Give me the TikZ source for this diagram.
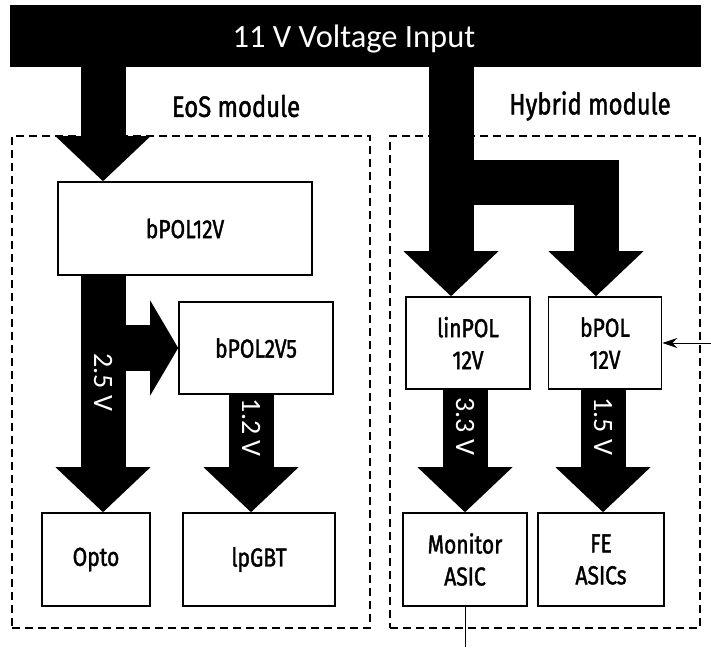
\documentclass[tikz,border=0pt]{standalone}
\usepackage{fontspec}
\setmainfont{Fira Sans}[FakeStretch=0.82]
\newfontfamily\semifont{Fira Sans}[FakeStretch=0.81,FakeBold=1.5]
\newfontfamily\calfont{Carlito}
\usetikzlibrary{arrows.meta,backgrounds}
\begin{document}
\begin{tikzpicture}[x=1pt,y=-1pt,
  bar/.style={fill=black,inner sep=0,minimum width=691pt,minimum height=62pt},
  bartext/.style={text=white,inner sep=0,font=\calfont\fontsize{32.5}{36}\selectfont},
  modlab/.style={font=\semifont\fontsize{29.5}{32}\selectfont},
  modbox/.style={draw,line width=1.6pt,dash pattern=on 8pt off 5pt,inner sep=0},
  box/.style={draw,line width=1.6pt,fill=white,align=center,inner sep=0,font=\semifont\fontsize{26}{32}\selectfont},
  fat/.style={line width=45pt,-{Triangle[length=45pt,width=95pt,line width=0pt 0 0]}},
  fatside/.style={line width=46pt,-{Triangle[length=28pt,width=95pt,line width=0pt 0 0]}},
  vlab/.style={text=white,sloped,font=\calfont\fontsize{28}{30}\selectfont,inner sep=0},
  thinarrow/.style={line width=1pt,-{Stealth[length=15pt,width=10pt]}}
]
\useasboundingbox (0,0) rectangle (711,647);
% containers and titles
\node[bar] (vin) at (355.5,36) {};
\node[bartext] (vintext) at (354,39) {11 V Voltage Input};
\node[modlab] (eoslab) at (236,106) {EoS module};
\node[modlab] (hyblab) at (590,106) {Hybrid module};
\node[modbox,minimum width=358pt,minimum height=492pt] (eos) at (191,382) {};
\node[modbox,minimum width=310pt,minimum height=492pt] (hyb) at (545,382) {};
% blocks
\node[box,minimum width=254pt,minimum height=93pt] (bpolA) at (185,228.5) {bPOL12V};
\node[box,minimum width=154pt,minimum height=92pt] (bpolB) at (256,348) {bPOL2V5};
\node[box,minimum width=108pt,minimum height=93pt] (opto) at (96,559.5) {Opto};
\node[box,minimum width=152pt,minimum height=93pt] (lpgbt) at (259,559.5) {lpGBT};
\node[box,minimum width=124pt,minimum height=92pt] (lin) at (468,343) {linPOL\\12V};
\node[box,minimum width=113pt,minimum height=92pt] (bpolH) at (605,343) {bPOL\\12V};
\node[box,minimum width=124pt,minimum height=93pt] (mon) at (465,559.5) {Monitor\\ASIC};
\node[box,minimum width=126pt,minimum height=93pt] (fe) at (601,559.5) {FE\\ASICs};
% helper coordinates
\coordinate (xA) at (103,0);
\coordinate (xB) at (251,0);
\coordinate (xC) at (451,0);
\coordinate (xD) at (596,0);
\coordinate (xE) at (465,0);
\coordinate (xF) at (603,0);
\coordinate (yK) at (0,182.5);
\coordinate (ext) at (711,343);
\coordinate (mb) at (465,647);
\begin{scope}[on background layer]
\draw[fat] (vin.south -| xA) -- (bpolA.north -| xA);
\draw[fatside] (xA |- bpolB.west) -- (bpolB.west);
\draw[fat] (bpolA.south -| xA) -- node[vlab,pos=0.45] {2.5 V} (opto.north -| xA);
\draw[fat] (bpolB.south -| xB) -- node[vlab,pos=0.28] {1.2 V} (lpgbt.north -| xB);
\draw[fat] (vin.south -| xC) -- (lin.north -| xC);
\draw[fat,line join=miter] (xC |- yK) -- (xD |- yK) -- (bpolH.north -| xD);
\draw[fat] (lin.south -| xE) -- node[vlab,pos=0.30] {3.3 V} (mon.north -| xE);
\draw[fat] (bpolH.south -| xF) -- node[vlab,pos=0.30] {1.5 V} (fe.north -| xF);
\end{scope}
\draw[thinarrow] (ext) -- (bpolH.east);
\draw[line width=1pt] (mon.south) -- (mb);
\end{tikzpicture}
\end{document}
